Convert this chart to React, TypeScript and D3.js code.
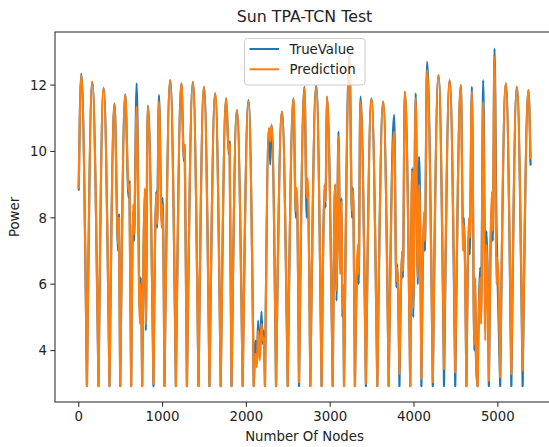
import React from "react";
import * as d3 from "d3";

// ---- data ----
const FLOOR = 2.93;
const startNode = 0;
const startTrue = 8.85;
const startPred = 8.9;
const endNode = 5390;
const endTrue = 9.6;
const endPred = 9.8;

const peakNode = [30, 161, 296, 427, 555, 691, 824, 957, 1091, 1225, 1362, 1494, 1628, 1759, 1887, 2025,
  2270, 2424, 2562, 2693, 2833, 2960, 3099, 3230, 3360, 3492, 3632, 3763, 3890, 4020, 4155, 4292, 4425,
  4559, 4690, 4825, 4960, 5095, 5227, 5365];
const peakTrue = [12.35, 12.1, 11.92, 11.45, 11.72, 12.05, 11.38, 11.7, 12.15, 12.05, 12.1, 11.95, 11.75, 11.6, 11.25, 11.55,
  10.7, 11.2, 11.6, 11.95, 12.0, 11.65, 10.6, 12.9, 11.65, 11.6, 11.5, 11.1, 11.8, 11.75, 12.7, 12.3, 12.15,
  12.0, 11.95, 12.15, 13.1, 12.05, 11.95, 11.85];
const peakPred = [12.3, 12.1, 11.92, 11.43, 11.7, 11.35, 11.35, 11.5, 12.15, 12.05, 12.1, 11.95, 11.75, 11.6, 11.25, 11.5,
  10.7, 11.2, 11.6, 11.9, 11.95, 11.65, 10.45, 12.85, 11.5, 11.6, 11.5, 10.6, 11.8, 11.6, 12.45, 12.3, 12.15,
  12.0, 11.8, 11.5, 12.85, 12.05, 11.95, 11.85];

const troughNode = [98, 236, 367, 495, 626, 757, 892, 1023, 1159, 1291, 1429, 1560, 1694, 1823, 1956, 2088,
  2222, 2354, 2493, 2628, 2763, 2897, 3030, 3165, 3295, 3426, 3562, 3698, 3826, 3955, 4088, 4224, 4358,
  4492, 4625, 4758, 4893, 5028, 5161, 5296];
const troughPred = [2.93, 2.93, 2.93, 2.93, 2.93, 2.93, 3.0, 2.93, 2.93, 2.93, 2.93, 2.93, 2.93, 2.93, 2.93, 2.93,
  2.93, 2.93, 2.93, 3.05, 2.93, 2.93, 2.93, 2.93, 2.93, 3.0, 2.93, 2.93, 3.3, 2.93, 3.15, 3.05, 3.45,
  3.35, 2.93, 2.93, 3.1, 3.2, 3.3, 3.4];

// intra-day wiggles (cloud dips, low day, double humps)
const extraNode = [470, 480, 595, 605, 650, 660, 730, 740, 790, 800, 925, 935, 990, 1000, 1255, 1265, 1790, 1800,
  2110, 2125, 2140, 2160, 2180, 2195, 2205, 2285, 2300, 2590, 2600, 2720, 2730, 2935, 2945,
  3060, 3075, 3120, 3135, 3145, 3152, 3260, 3270, 3330, 3340, 3790, 3800, 3860, 3868,
  3980, 3990, 4045, 4060, 4120, 4130, 4585, 4595, 4655, 4665, 4720, 4730, 4740,
  4790, 4800, 4850, 4865, 4930, 4940, 4985, 4995];
const extraTrue = [7.0, 8.1, 8.6, 9.1, 8.2, 7.3, 5.0, 6.2, 8.8, 4.6, 8.8, 7.7, 7.9, 8.6, 9.7, 10.1, 9.9, 10.3,
  4.3, 3.6, 4.9, 3.8, 5.17, 4.2, 4.6, 9.6, 10.8, 8.0, 8.8, 8.0, 9.0, 9.0, 8.3,
  9.0, 5.5, 6.5, 8.6, 5.0, 6.0, 8.0, 8.9, 7.0, 6.0, 5.9, 6.6, 7.0, 6.2,
  9.5, 5.0, 6.0, 9.84, 8.0, 7.0, 7.6, 8.0, 7.6, 6.9, 4.0, 6.0, 3.7,
  6.5, 5.0, 6.4, 7.6, 8.5, 7.3, 7.6, 6.4];
const extraPred = [7.2, 8.0, 8.8, 9.0, 8.4, 7.5, 4.8, 6.0, 8.9, 4.8, 8.7, 7.8, 7.7, 8.4, 9.8, 10.2, 10.0, 10.2,
  3.9, 3.5, 4.6, 3.7, 4.8, 4.3, 4.4, 10.3, 10.8, 8.2, 8.9, 8.6, 9.2, 9.0, 8.5,
  9.0, 5.8, 6.3, 8.5, 5.3, 6.0, 8.2, 8.8, 7.2, 6.3, 6.1, 6.5, 7.0, 6.4,
  9.4, 5.3, 6.2, 9.0, 8.2, 7.3, 7.0, 7.8, 8.0, 7.4, 4.2, 6.2, 3.8,
  6.2, 4.8, 4.3, 7.2, 8.8, 7.6, 6.0, 6.8];

const xTicks = [0, 1000, 2000, 3000, 4000, 5000];
const yTicks = [4, 6, 8, 10, 12];
const seriesNames = ["TrueValue", "Prediction"];
const seriesColors = ["#1f77b4", "#ff7f0e"];

type Pt = { n: number; v: number; trough?: boolean };

function buildSeries(peakV: number[], troughV: number[] | null, extraV: number[], s: number, e: number): Pt[] {
  const pts: Pt[] = [{ n: startNode, v: s }];
  peakNode.forEach((n, i) => pts.push({ n, v: peakV[i] }));
  troughNode.forEach((n, i) => pts.push({ n, v: troughV ? troughV[i] : FLOOR, trough: true }));
  extraNode.forEach((n, i) => pts.push({ n, v: extraV[i] }));
  pts.push({ n: endNode, v: e });
  return pts.sort((a, b) => a.n - b.n);
}

// split the series into days (trough to trough) so every night is a sharp dip
function splitDays(pts: Pt[]): Pt[][] {
  const days: Pt[][] = [];
  let cur: Pt[] = [];
  pts.forEach((p) => {
    cur.push(p);
    if (p.trough) {
      days.push(cur);
      cur = [p];
    }
  });
  if (cur.length > 1) days.push(cur);
  return days;
}

const W = 549;
const H = 447;
const L = 55;
const R = 554;
const T = 32;
const B = 402;
const FONT = "'DejaVu Sans', sans-serif";

export default function App() {
  const x = d3.scaleLinear().domain([-283, 5670]).range([L, R]);
  const y = d3.scaleLinear().domain([2.45, 13.6]).range([B, T]);
  const line = d3
    .line<Pt>()
    .x((d) => x(d.n))
    .y((d) => y(d.v))
    .curve(d3.curveMonotoneX);

  const trueSeries = buildSeries(peakTrue, null, extraTrue, startTrue, endTrue);
  const predSeries = buildSeries(peakPred, troughPred, extraPred, startPred, endPred);
  const truePath = splitDays(trueSeries).map((d) => line(d) || "").join("");
  const predPath = splitDays(predSeries).map((d) => line(d) || "").join("");

  const axisColor = "#333";
  const textColor = "#222";
  const tickLen = 4.7;
  const lw = 2.2;

  return (
    <svg width={W} height={H} style={{ position: "absolute", left: 0, top: 0, background: "#fff" }}>
      <defs>
        <clipPath id="plotclip">
          <rect x={L} y={T} width={R - L} height={B - T} />
        </clipPath>
      </defs>
      <rect x={0} y={0} width={W} height={H} fill="#fff" />
      <text x={(L + R) / 2} y={22} textAnchor="middle" fontFamily={FONT} fontSize={15.8} fill={textColor}>
        Sun TPA-TCN Test
      </text>
      <g clipPath="url(#plotclip)">
        <path d={truePath} fill="none" stroke={seriesColors[0]} strokeWidth={lw} strokeLinejoin="round" strokeLinecap="round" />
        <path d={predPath} fill="none" stroke={seriesColors[1]} strokeWidth={lw} strokeLinejoin="round" strokeLinecap="round" />
      </g>
      {/* spines */}
      <rect x={L} y={T} width={R - L} height={B - T} fill="none" stroke={axisColor} strokeWidth={1.1} />
      {/* x ticks */}
      {xTicks.map((t) => (
        <g key={"x" + t}>
          <line x1={x(t)} x2={x(t)} y1={B} y2={B + tickLen} stroke={axisColor} strokeWidth={1.1} />
          <text x={x(t)} y={421} textAnchor="middle" fontFamily={FONT} fontSize={13.3} fill={textColor}>
            {t}
          </text>
        </g>
      ))}
      {/* y ticks */}
      {yTicks.map((t) => (
        <g key={"y" + t}>
          <line x1={L - tickLen} x2={L} y1={y(t)} y2={y(t)} stroke={axisColor} strokeWidth={1.1} />
          <text x={L - tickLen - 3.4} y={y(t) + 4.8} textAnchor="end" fontFamily={FONT} fontSize={13.3} fill={textColor}>
            {t}
          </text>
        </g>
      ))}
      <text x={(L + R) / 2} y={441} textAnchor="middle" fontFamily={FONT} fontSize={13.3} fill={textColor}>
        Number Of Nodes
      </text>
      <text
        transform={`translate(19,${(T + B) / 2}) rotate(-90)`}
        textAnchor="middle"
        fontFamily={FONT}
        fontSize={13.3}
        fill={textColor}
      >
        Power
      </text>
      {/* legend */}
      <rect x={244.5} y={38.5} width={120.5} height={46.5} rx={3} fill="#fff" fillOpacity={0.8} stroke="#ccc" strokeWidth={1} />
      {seriesNames.map((name, i) => (
        <g key={name}>
          <line x1={249.5} x2={279} y1={49 + i * 20.3} y2={49 + i * 20.3} stroke={seriesColors[i]} strokeWidth={2} />
          <text x={289.5} y={53.8 + i * 20.3} fontFamily={FONT} fontSize={13.3} fill={textColor}>
            {name}
          </text>
        </g>
      ))}
    </svg>
  );
}
